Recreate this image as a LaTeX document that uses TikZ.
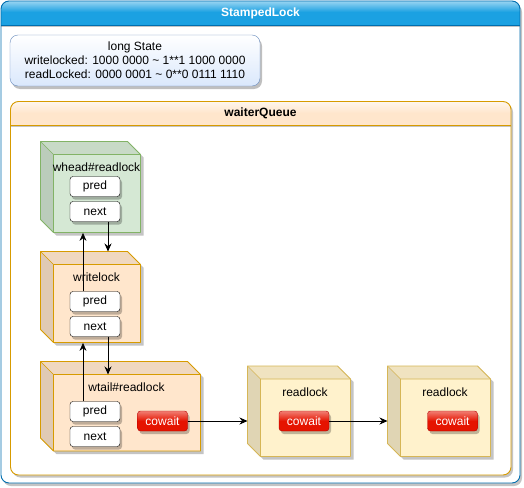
\documentclass[tikz,border=0pt]{standalone}
\usepackage{fontspec}
\setmainfont{Liberation Sans}
\usetikzlibrary{arrows.meta,shadows,calc}

\definecolor{laneblue}{HTML}{1BA1E2}
\definecolor{lanebluedark}{HTML}{006EAF}
\definecolor{stateblue}{HTML}{DAE8FC}
\definecolor{statebluedark}{HTML}{6C8EBF}
\definecolor{orangefill}{HTML}{FFE6CC}
\definecolor{orangeline}{HTML}{D79B00}
\definecolor{greenfill}{HTML}{D5E8D4}
\definecolor{greenline}{HTML}{82B366}
\definecolor{yellowfill}{HTML}{FFF2CC}
\definecolor{yellowline}{HTML}{D6B656}
\definecolor{redfill}{HTML}{E51400}
\definecolor{redline}{HTML}{B20000}
\definecolor{shadowgray}{HTML}{C4C4C4}

\tikzset{
  txt/.style={font=\fontsize{12pt}{14pt}\selectfont, inner sep=0pt},
  field/.style={draw=black, fill=white, rounded corners=3pt, minimum width=50pt,
    minimum height=20pt, inner sep=0pt, font=\fontsize{12pt}{14pt}\selectfont,
    drop shadow={shadow xshift=2pt, shadow yshift=-3pt, fill=black, opacity=0.25}},
  cowaitbox/.style={draw=redline, top color=redfill!55!white, bottom color=redfill,
    middle color=redfill, rounded corners=3pt, minimum width=50pt, minimum height=20pt,
    inner sep=0pt, text=white, font=\fontsize{12pt}{14pt}\selectfont,
    drop shadow={shadow xshift=2pt, shadow yshift=-3pt, fill=black, opacity=0.25}},
  link/.style={draw=black, line width=0.8pt, -{Stealth[length=8pt,width=7pt]}},
}

% #1 name, #2 x, #3 y, #4 width, #5 height, #6 face colour, #7 edge colour
\newcommand\boxcube[7]{%
  \fill[shadowgray] (#2+3,#3+3) -- ++(#4-13,0) -- ++(13,13) -- ++(0,#5-13)
    -- ++(-#4+13,0) -- ++(-13,-13) -- cycle;
  \fill[#6] (#2+13,#3+13) rectangle (#2+#4,#3+#5);
  \fill[#6!94!black] (#2,#3) -- ++(#4-13,0) -- ++(13,13) -- ++(-#4+13,0) -- cycle;
  \fill[#6!88!black] (#2,#3) -- ++(13,13) -- ++(0,#5-13) -- ++(-13,-13) -- cycle;
  \draw[#7, line width=0.9pt, line join=round] (#2,#3) -- ++(#4-13,0) -- ++(13,13)
    -- ++(0,#5-13) -- ++(-#4+13,0) -- ++(-13,-13) -- cycle;
  \draw[#7, line width=0.6pt] (#2,#3) -- ++(13,13) -- ++(#4-13,0);
  \draw[#7, line width=0.6pt] (#2+13,#3+13) -- ++(0,#5-13);
  \node[inner sep=0pt, minimum width={#4*1pt}, minimum height={#5*1pt},
    anchor=north west] (#1) at (#2,#3) {};
  \node[inner sep=0pt, minimum width={(#4-13)*1pt}, minimum height={(#5-13)*1pt},
    anchor=north west] (#1-f) at (#2+13,#3+13) {};
}

\begin{document}
\begin{tikzpicture}[x=1pt, y=-1pt]
\useasboundingbox (0,0) rectangle (524,487);

% ---- StampedLock container ----
\fill[shadowgray, rounded corners=8pt] (3,4) rectangle (522,486);
\fill[white, rounded corners=8pt] (1,1) rectangle (520,483);
\begin{scope}
  \clip[rounded corners=8pt] (1,1) rectangle (520,483);
  \fill[laneblue] (1,1) rectangle (520,25);
  \shade[top color=laneblue!45!white, bottom color=laneblue] (1,1) rectangle (520,12);
  \draw[shadowgray, line width=1.5pt] (1,26.5) -- (520,26.5);
\end{scope}
\draw[lanebluedark, line width=0.9pt] (1,25) -- (520,25);
\draw[lanebluedark, line width=0.9pt, rounded corners=8pt] (1,1) rectangle (520,483);
\node[txt, text=white, font=\bfseries\fontsize{12pt}{14pt}\selectfont] (title) at (260.5,13) {StampedLock};

% ---- long State ----
\node[draw=statebluedark, top color=white, bottom color=stateblue, rounded corners=8pt,
  minimum width=250pt, minimum height=51pt, inner sep=0pt, align=center,
  font=\fontsize{12pt}{14pt}\selectfont,
  drop shadow={shadow xshift=2pt, shadow yshift=-3pt, fill=black, opacity=0.25}]
  (state) at (135,60.5)
  {long State\\writelocked: 1000 0000 \textasciitilde{} 1**1 1000 0000\\readLocked: 0000 0001 \textasciitilde{} 0**0 0111 1110};

% ---- waiterQueue container ----
\fill[shadowgray, rounded corners=8pt] (12.5,104) rectangle (513,477.5);
\fill[white, rounded corners=8pt] (10.5,101.5) rectangle (511,475);
\begin{scope}
  \clip[rounded corners=8pt] (10.5,101.5) rectangle (511,475);
  \fill[orangefill] (10.5,101.5) rectangle (511,125);
  \shade[top color=orangefill!35!white, bottom color=orangefill] (10.5,101.5) rectangle (511,113);
  \draw[shadowgray, line width=1.5pt] (10.5,126.5) -- (511,126.5);
\end{scope}
\draw[orangeline, line width=0.9pt] (10.5,125) -- (511,125);
\draw[orangeline, line width=0.9pt, rounded corners=8pt] (10.5,101.5) rectangle (511,475);
\node[txt, font=\bfseries\fontsize{12pt}{14pt}\selectfont] (queue) at (260.5,113) {waiterQueue};

% ---- queue nodes ----
\boxcube{wh}{40.5}{141.5}{100}{91}{greenfill}{greenline}
\node[txt] (whlabel) at (96.5,167.5) {whead\#readlock};
\node[field] (whpred) at (95,186.5) {pred};
\node[field] (whnext) at (95,211.5) {next};

\boxcube{wl}{40.5}{251.5}{100}{91}{orangefill}{orangeline}
\node[txt] (wllabel) at (96.5,277.5) {writelock};
\node[field] (wlpred) at (95,301.5) {pred};
\node[field] (wlnext) at (95,326.5) {next};

\boxcube{wt}{40.5}{361.5}{160}{89.5}{orangefill}{orangeline}
\node[txt] (wtlabel) at (126.5,387.5) {wtail\#readlock};
\node[field] (wtpred) at (95,411.5) {pred};
\node[field] (wtnext) at (95,436.5) {next};
\node[cowaitbox] (wtco) at (162.5,421) {cowait};

\boxcube{ra}{247.5}{366}{103}{90.5}{yellowfill}{yellowline}
\node[txt] (ralabel) at (305,392.5) {readlock};
\node[cowaitbox] (raco) at (304,421) {cowait};

\boxcube{rb}{387.5}{366}{103}{90.5}{yellowfill}{yellowline}
\node[txt] (rblabel) at (445,392.5) {readlock};
\node[cowaitbox] (rbco) at (452.5,421) {cowait};

% ---- links ----
\coordinate (whnextout) at ($(whnext.south)+(13,0)$);
\coordinate (wlnextout) at ($(wlnext.south)+(13,0)$);
\coordinate (wlpredout) at ($(wlpred.north)+(-12,0)$);
\coordinate (wtpredout) at ($(wtpred.north)+(-12,0)$);
\path[link] (whnextout) -- (whnextout |- wl.north);
\path[link] (wlpredout) -- (wlpredout |- wh.south);
\path[link] (wlnextout) -- (wlnextout |- wt-f.north);
\path[link] (wtpredout) -- (wtpredout |- wl.south);
\path[link] (wtco.east) -- (wtco.east -| ra.west);
\path[link] (raco.east) -- (raco.east -| rb.west);
\end{tikzpicture}
\end{document}
